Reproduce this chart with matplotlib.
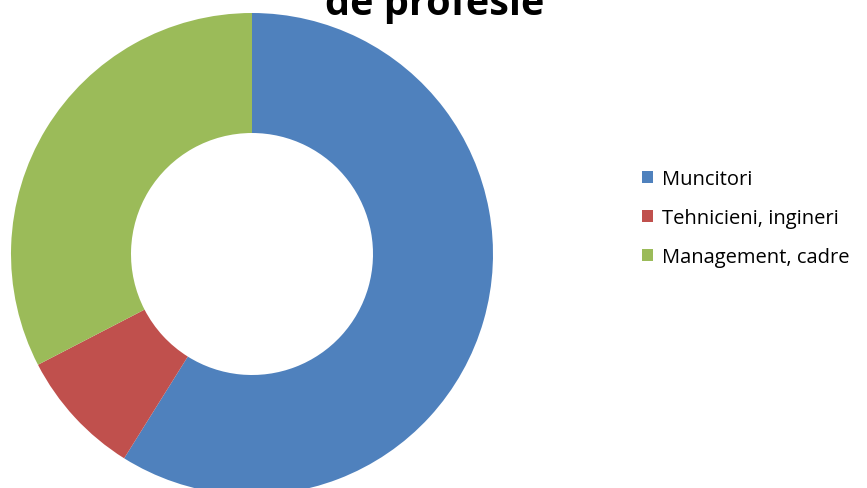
import matplotlib
matplotlib.use("Agg")
import matplotlib.pyplot as plt
from matplotlib.patches import Patch

# data
categories = ["Muncitori", "Tehnicieni, ingineri", "Management, cadre"]
values = [58.9, 8.5, 32.6]
colors = ["#4F81BD", "#C0504D", "#9BBB59"]
title = "de profesie"

W, H = 867, 489
fig = plt.figure(figsize=(W / 100, H / 100), dpi=100)

cx, cy, r = 252, 255, 241
ax = fig.add_axes([(cx - r) / W, (H - cy - r) / H, 2 * r / W, 2 * r / H])
ax.pie(values, colors=colors, startangle=90, counterclock=False, radius=1,
       wedgeprops=dict(width=1 - 121 / 241, linewidth=0))
ax.set_xlim(-1, 1)
ax.set_ylim(-1, 1)
ax.set_aspect("auto")
ax.axis("off")

fig.text(435 / W, 1 - 15 / H, title, ha="center", va="baseline",
         fontsize=28.5, fontweight="bold", family="Open Sans")

handles = [Patch(facecolor=c, edgecolor="none") for c in colors]
fig.legend(handles, categories, loc="center left", bbox_to_anchor=(634 / W, 1 - 219 / H),
           frameon=False, handlelength=0.55, handleheight=0.55,
           handletextpad=0.45, labelspacing=0.95, borderaxespad=0,
           prop={"family": "Open Sans", "size": 14.5})

fig.savefig("out.png", dpi=100)
